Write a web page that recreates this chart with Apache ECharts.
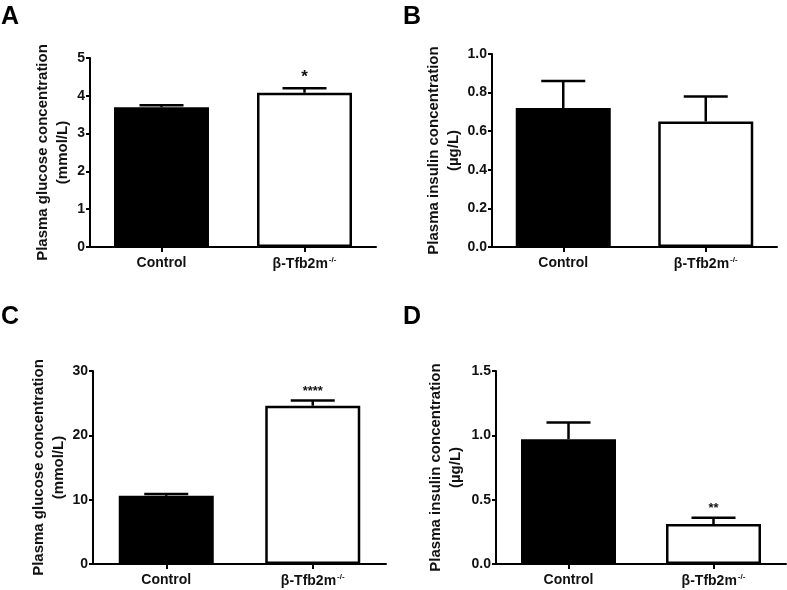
<!DOCTYPE html>
<html>
<head>
<meta charset="utf-8">
<script src="https://cdn.jsdelivr.net/npm/echarts@6/dist/echarts.min.js"></script>
<style>
html,body{margin:0;padding:0;background:#fff;}
#chart{width:787px;height:590px;}
</style>
</head>
<body>
<div id="chart"></div>
<script>
// ---- data ----
const categories = ['Control', 'β-Tfb2m-/-'];
const panelLetters = ['A', 'B', 'C', 'D'];

const glucoseA = [3.70, 4.08];
const glucoseAUpper = [3.75, 4.20];
const sigA = ['', '*'];

const insulinB = [0.72, 0.65];
const insulinBUpper = [0.86, 0.78];
const sigB = ['', ''];

const glucoseC = [10.6, 24.6];
const glucoseCUpper = [10.9, 25.4];
const sigC = ['', '****'];

const insulinD = [0.97, 0.31];
const insulinDUpper = [1.10, 0.36];
const sigD = ['', '**'];

const yMaxA = 5, yIntA = 1;
const yMaxB = 1.0, yIntB = 0.2;
const yMaxC = 30, yIntC = 10;
const yMaxD = 1.5, yIntD = 0.5;

const glucoseTitle = 'Plasma glucose concentration\n(mmol/L)';
const insulinTitle = 'Plasma insulin concentration\n(µg/L)';

// ---- chart ----
const FONT = 'Arial, "Liberation Sans", sans-serif';
const chart = echarts.init(document.getElementById('chart'));

const grids = [
  {left: 90, right: 411, top: 58, bottom: 343},
  {left: 492, right: 10, top: 54, bottom: 343},
  {left: 93, right: 401, top: 371, bottom: 26},
  {left: 496, right: 1, top: 371, bottom: 26}
];

const panels = [
  {vals: glucoseA, up: glucoseAUpper, sig: sigA, max: yMaxA, int: yIntA, name: glucoseTitle, gap: 16, fmt: v => String(v)},
  {vals: insulinB, up: insulinBUpper, sig: sigB, max: yMaxB, int: yIntB, name: insulinTitle, gap: 26, fmt: v => v.toFixed(1)},
  {vals: glucoseC, up: glucoseCUpper, sig: sigC, max: yMaxC, int: yIntC, name: glucoseTitle, gap: 24, fmt: v => String(v)},
  {vals: insulinD, up: insulinDUpper, sig: sigD, max: yMaxD, int: yIntD, name: insulinTitle, gap: 30, fmt: v => v.toFixed(1)}
];

const axisLineStyle = {color: '#000', width: 2};

const xAxes = panels.map((p, i) => ({
  type: 'category',
  gridIndex: i,
  data: categories,
  axisLine: {show: true, lineStyle: axisLineStyle},
  axisTick: {show: true, alignWithLabel: true, length: 5, lineStyle: axisLineStyle},
  axisLabel: {
    margin: 9,
    formatter: function (v) {
      if (v.indexOf('-/-') >= 0) {
        return '{b|' + v.replace('-/-', '') + '}{s|-/-}';
      }
      return '{b|' + v + '}';
    },
    rich: {
      b: {fontSize: 14, fontWeight: 'bold', color: '#111', fontFamily: FONT},
      s: {fontSize: 8, fontWeight: 'bold', color: '#111', fontFamily: FONT, padding: [0, 0, 9, 1]}
    }
  }
}));

const yAxes = panels.map((p, i) => ({
  type: 'value',
  gridIndex: i,
  min: 0,
  max: p.max,
  interval: p.int,
  splitLine: {show: false},
  axisLine: {show: true, lineStyle: axisLineStyle},
  axisTick: {show: true, length: 4, lineStyle: axisLineStyle},
  axisLabel: {
    margin: 5,
    fontSize: 14, fontWeight: 'bold', color: '#111', fontFamily: FONT,
    formatter: p.fmt
  },
  name: p.name,
  nameLocation: 'middle',
  nameRotate: 90,
  nameGap: p.gap,
  nameTextStyle: {fontSize: 15, fontWeight: 'bold', color: '#111', fontFamily: FONT, lineHeight: 20, align: 'center'}
}));

const series = [];
panels.forEach((p, i) => {
  series.push({
    type: 'bar',
    xAxisIndex: i,
    yAxisIndex: i,
    barWidth: 95,
    data: p.vals.map((v, k) => ({
      value: v,
      itemStyle: {color: k === 0 ? '#000' : '#fff', borderColor: '#000', borderWidth: 2.5}
    })),
    z: 2
  });
  series.push({
    type: 'custom',
    xAxisIndex: i,
    yAxisIndex: i,
    z: 5,
    data: p.vals.map((v, k) => [k, v, p.up[k]]),
    renderItem: function (params, api) {
      const base = api.coord([api.value(0), api.value(1)]);
      const top = api.coord([api.value(0), api.value(2)]);
      const hw = 22;
      const style = {stroke: '#000', lineWidth: 2.5};
      const children = [
        {type: 'line', shape: {x1: base[0], y1: base[1], x2: base[0], y2: top[1]}, style: style},
        {type: 'line', shape: {x1: base[0] - hw, y1: top[1], x2: base[0] + hw, y2: top[1]}, style: style}
      ];
      const s = p.sig[params.dataIndex];
      if (s) {
        const single = s.length === 1;
        children.push({
          type: 'text',
          style: {
            text: s, x: base[0], y: top[1] - (single ? 2 : 3),
            align: 'center', verticalAlign: 'bottom',
            fontSize: single ? 17 : 13, fontWeight: 'bold', fill: '#111', fontFamily: FONT
          }
        });
      }
      return {type: 'group', children: children};
    }
  });
});

const letterPos = [[1, 5], [403, 5], [1, 305], [403, 305]];
const graphics = panelLetters.map((t, i) => ({
  type: 'text',
  left: letterPos[i][0],
  top: letterPos[i][1],
  style: {text: t, fontSize: 25, fontWeight: 'bold', fill: '#000', fontFamily: FONT}
}));

chart.setOption({
  animation: false,
  backgroundColor: '#fff',
  grid: grids,
  xAxis: xAxes,
  yAxis: yAxes,
  series: series,
  graphic: graphics
});
</script>
</body>
</html>
